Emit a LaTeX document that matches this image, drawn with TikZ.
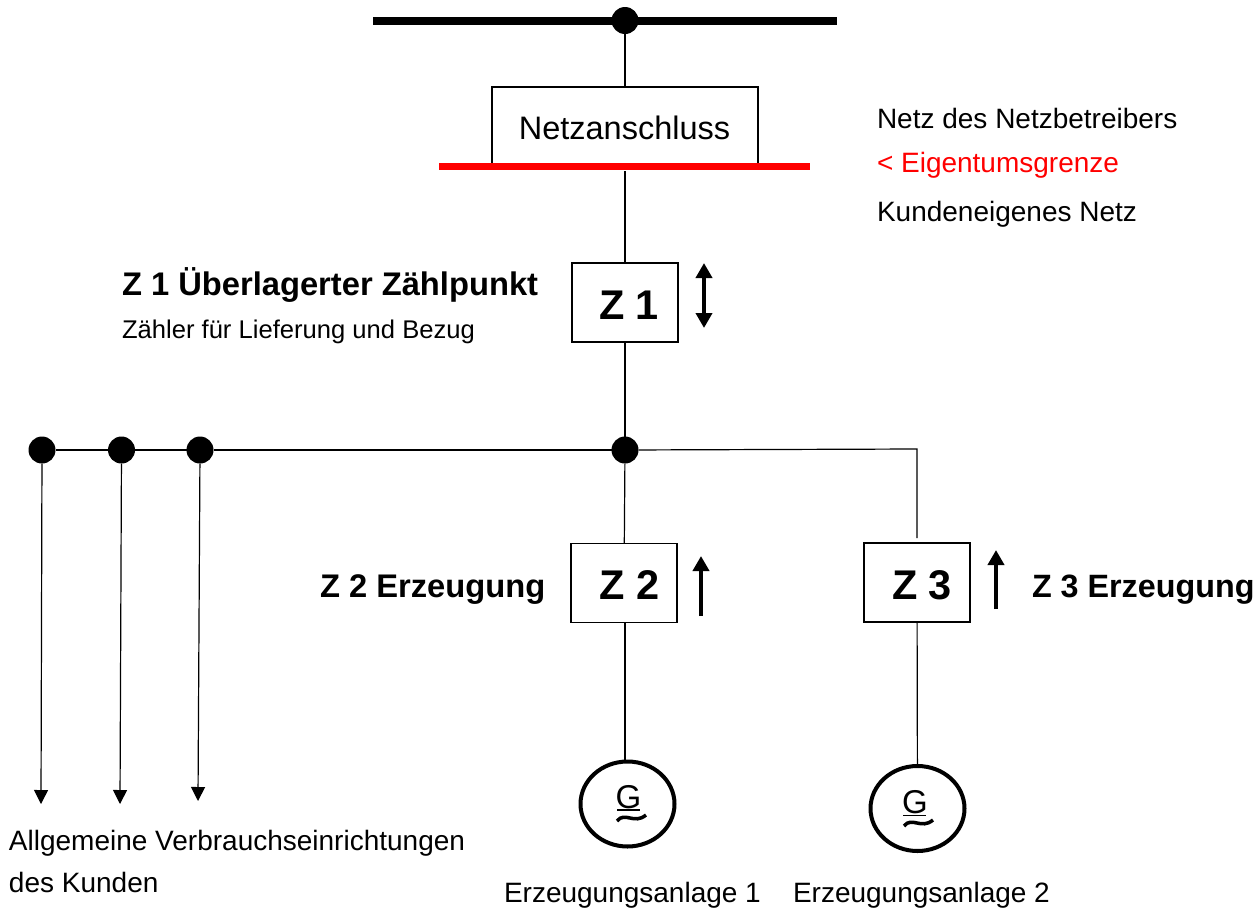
\documentclass[tikz,border=0pt]{standalone}
\usepackage{fontspec}
\setmainfont{Liberation Sans}
\usetikzlibrary{arrows.meta,shapes.geometric}
\newcommand{\fs}[1]{\fontsize{#1}{#1}\selectfont}
\tikzset{
  dotnode/.style={circle,fill=black,draw=none,minimum size=27pt,inner sep=0pt,outer sep=0pt},
  meterbox/.style={draw=black,line width=1.5pt,fill=white,minimum width=106pt,minimum height=79pt,inner sep=0pt},
  bigbox/.style={draw=black,line width=1.5pt,fill=white,minimum width=266pt,minimum height=79pt,inner sep=0pt},
  metertext/.style={inner sep=0pt,font=\fs{41.5}\bfseries,anchor=base},
  gennode/.style={draw=black,line width=4pt,ellipse,fill=white,minimum width=94pt,minimum height=85pt,inner sep=0pt},
  wire/.style={line width=1.2pt,draw=black},
  flowarrow/.style={line width=4.8pt,draw=black,-{Triangle[length=15pt,width=16pt]}},
  flowboth/.style={line width=4.8pt,draw=black,{Triangle[length=15pt,width=16pt]}-{Triangle[length=15pt,width=16pt]}},
  loadarrow/.style={wire,-{Triangle[length=14pt,width=14pt]}},
  lab/.style={anchor=base west,inner sep=0pt,outer sep=0pt,font=\fs{28}},
  blab/.style={anchor=base west,inner sep=0pt,outer sep=0pt,font=\fs{32.7}\bfseries},
  gsym/.style={inner sep=0pt,outer sep=0pt,font=\fs{33},anchor=base}
}
\begin{document}
\begin{tikzpicture}[x=1pt,y=-1pt]
\useasboundingbox (0,0) rectangle (1256,908);
% coordinates
\coordinate (barL) at (373,20.5);
\coordinate (barR) at (837,20.5);
\coordinate (redL) at (439,166.7);
\coordinate (redR) at (810,166.7);
\coordinate (redM) at (625,171);
\coordinate (corner) at (917,449);
\coordinate (z3in) at (917,538);
\coordinate (l1end) at (41,804);
\coordinate (l2end) at (120,804);
\coordinate (l3end) at (198,801);
\coordinate (a1t) at (704,263); \coordinate (a1b) at (704,328);
\coordinate (a2t) at (701,556); \coordinate (a2b) at (701,616);
\coordinate (a3t) at (996,550); \coordinate (a3b) at (996,609);
% nodes
\node[dotnode] (top) at (625,20.5) {};
\node[bigbox] (na) at (625,126.5) {};
\node[inner sep=0pt,font=\fs{32.5},anchor=base] (natext) at (624.5,139) {Netzanschluss};
\node[meterbox] (z1) at (625,302.5) {};
\node[metertext] (z1t) at (629,319) {Z 1};
\node[dotnode] (hub) at (625,450) {};
\node[dotnode] (d1) at (42,450) {};
\node[dotnode] (d2) at (121.5,450) {};
\node[dotnode] (d3) at (200,450) {};
\node[meterbox] (z2) at (624,583) {};
\node[metertext] (z2t) at (629.5,599) {Z 2};
\node[meterbox] (z3) at (917,582.5) {};
\node[metertext] (z3t) at (922,599) {Z 3};
\node[gennode] (g1) at (627.5,804) {};
\node[gennode] (g2) at (917.5,808.5) {};
\node[gsym] (g1g) at (628.5,808) {G};
\node[gsym] (g2g) at (915,813) {G};
% connectors
\draw[line width=8pt] (barL) -- (barR);
\draw[wire] (top) -- (na);
\draw[wire] (redM) -- (z1);
\draw[wire] (z1) -- (hub);
\draw[wire] (d1) -- (d2);
\draw[wire] (d2) -- (d3);
\draw[wire] (d3) -- (hub);
\draw[wire] (hub) -- (corner) -- (z3in);
\draw[wire] (hub) -- (z2);
\draw[wire] (z2.south -| hub) -- (g1.north -| hub);
\draw[wire] (z3) -- (g2);
\draw[loadarrow] (d1) -- (l1end);
\draw[loadarrow] (d2) -- (l2end);
\draw[loadarrow] (d3) -- (l3end);
\draw[line width=6.5pt,red] (redL) -- (redR);
\draw[flowboth] (a1t) -- (a1b);
\draw[flowarrow] (a2b) -- (a2t);
\draw[flowarrow] (a3b) -- (a3t);
% G underline + tilde
\draw[line width=1.2pt] (617,810) -- (640,810);
\draw[line width=1.2pt] (903,815.5) -- (926,815.5);
\draw[line width=3.5pt] (617,821) .. controls (625,811) and (634,825) .. (646,815);
\draw[line width=3.5pt] (904,826) .. controls (912,816) and (921,830) .. (933,820);
% labels
\node[lab] (t1) at (877,128) {Netz des Netzbetreibers};
\node[lab,text=red] (t2) at (877,172) {< Eigentumsgrenze};
\node[lab] (t3) at (877,221) {Kundeneigenes Netz};
\node[blab] (t4) at (122,295) {Z 1 Überlagerter Zählpunkt};
\node[lab,font=\fs{25.6}] (t5) at (122,338) {Zähler für Lieferung und Bezug};
\node[blab] (t6) at (320,597) {Z 2 Erzeugung};
\node[blab,font=\fs{32.3}\bfseries] (t7) at (1032,597) {Z 3 Erzeugung};
\node[lab] (t8) at (9,850) {Allgemeine Verbrauchseinrichtungen};
\node[lab] (t9) at (9,892) {des Kunden};
\node[lab] (t10) at (504,902) {Erzeugungsanlage 1};
\node[lab] (t11) at (793,902) {Erzeugungsanlage 2};
\end{tikzpicture}
\end{document}
